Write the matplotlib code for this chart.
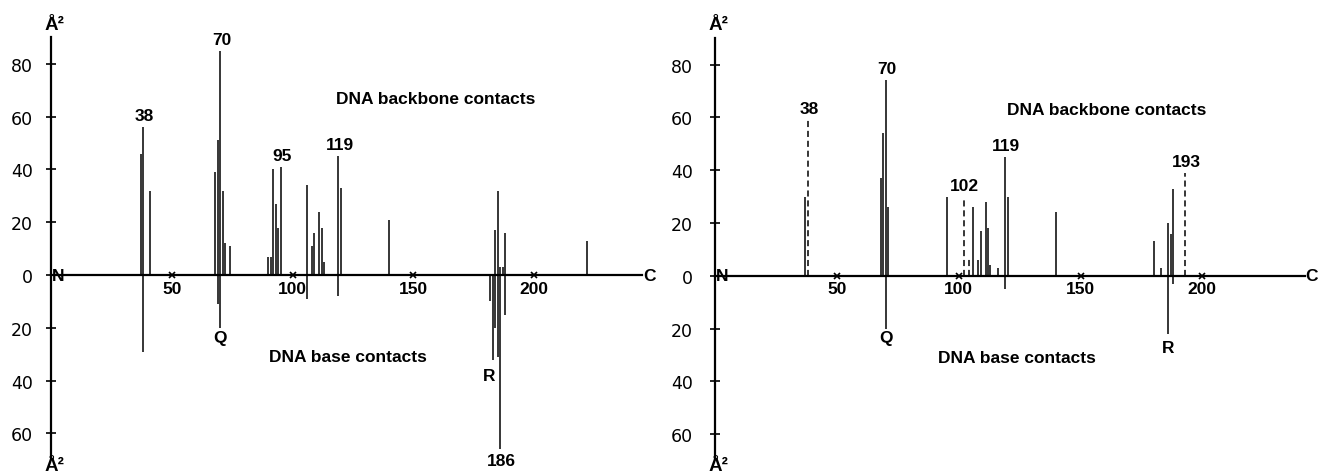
import matplotlib
matplotlib.use("Agg")
import matplotlib.pyplot as plt

plt.rcParams["font.family"] = ["Liberation Sans", "DejaVu Sans"]

# -----------------------------
# Contact areas (A^2) per residue
# -----------------------------
# left panel
left_bb_res = [37, 38, 41, 68, 69, 70, 71, 72, 74, 90, 91, 92, 93, 94, 95,
               106, 108, 109, 111, 112, 113, 119, 120, 140,
               184, 185, 186, 187, 188, 222]
left_bb_val = [46, 56, 32, 39, 51, 85, 32, 12, 11, 7, 7, 40, 27, 18, 41,
               34, 11, 16, 24, 18, 5, 45, 33, 21,
               17, 32, 3, 3, 16, 13]
left_base_res = [38, 69, 70, 106, 119, 182, 183, 184, 185, 186, 188]
left_base_val = [29, 11, 20, 9, 8, 10, 32, 20, 31, 66, 15]

# right panel
right_bb_res = [37, 68, 69, 70, 71, 95, 106, 108, 109, 111, 112, 113, 116,
                119, 120, 140, 180, 183, 186, 187, 188]
right_bb_val = [30, 37, 54, 74, 26, 30, 26, 6, 17, 28, 18, 4, 3,
                45, 30, 24, 13, 3, 20, 16, 33]
right_dash_res = [38, 102, 104, 193]
right_dash_val = [59, 30, 7, 39]
right_base_res = [70, 119, 186, 188]
right_base_val = [20, 5, 22, 3]

# labelled residues
left_top_labels = [38, 70, 95, 119]
left_bottom_labels = [186]
right_top_labels = [38, 70, 102, 119, 193]
left_letters = {"Q": (70, -23.5), "R": (181.5, -38)}
right_letters = {"Q": (70, -23.5), "R": (186, -27)}

x_ticks = [50, 100, 150, 200]
y_ticks = [-60, -40, -20, 0, 20, 40, 60, 80]

fig = plt.figure(figsize=(13.22, 4.77), dpi=100)
W, H = 1322, 477
YLIM = (-75, 97)


def setup(ax, xend, ypad):
    ax.set_xlim(0, xend)
    ax.set_ylim(*YLIM)
    ax.spines["left"].set_position(("data", 0))
    ax.spines["bottom"].set_position(("data", 0))
    ax.spines["right"].set_visible(False)
    ax.spines["top"].set_visible(False)
    ax.spines["left"].set_bounds(-69, 90)
    ax.spines["bottom"].set_bounds(0, xend)
    for s in ("left", "bottom"):
        ax.spines[s].set_linewidth(1.6)
    ax.set_yticks(y_ticks)
    ax.set_yticklabels([str(abs(v)) for v in y_ticks], family="DejaVu Sans",
                       fontsize=12.5)
    ax.tick_params(axis="y", direction="inout", length=7, width=1.2, pad=ypad)
    ax.set_xticks(x_ticks)
    ax.set_xticklabels([str(v) for v in x_ticks], fontweight="bold", fontsize=12.5)
    ax.tick_params(axis="x", length=0, pad=4)
    ax.plot(x_ticks, [0] * len(x_ticks), "x", color="black", ms=4, mew=1.2,
            clip_on=False)
    ax.patch.set_visible(False)
    ax.text(3, 0, "N", ha="center", va="center", fontweight="bold", fontsize=12.5)
    ax.text(xend + 0.3, 0, "C", ha="left", va="center", fontweight="bold",
            fontsize=12.5, clip_on=False)
    for yy in (95, -72):
        ax.text(-2.8, yy, "Å²", ha="left", va="center", fontweight="bold",
                fontsize=13.5, clip_on=False)


ax1 = fig.add_axes([51.3 / W, 3 / H, 245 * 2.413 / W, 454 / H])
ax2 = fig.add_axes([715.3 / W, 2.3 / H, 242 * 2.435 / W, 454 / H])
setup(ax1, 245, 9.5)
setup(ax2, 242, 12.5)

lw = 1.1
# left panel bars
ax1.vlines(left_bb_res, 0, left_bb_val, color="black", lw=lw)
ax1.vlines(left_base_res, 0, [-v for v in left_base_val], color="black", lw=lw)
# right panel bars
ax2.vlines(right_bb_res, 0, right_bb_val, color="black", lw=lw)
ax2.vlines(right_dash_res, 0, right_dash_val, color="black", lw=lw,
           linestyles=(0, (4, 2.5)))
ax2.vlines(right_base_res, 0, [-v for v in right_base_val], color="black", lw=lw)

lbl = dict(fontweight="bold", fontsize=12.5, ha="center")
for r in left_top_labels:
    ax1.text(r + 0.5, left_bb_val[left_bb_res.index(r)] + 1.5, str(r),
             va="bottom", **lbl)
for r in left_bottom_labels:
    ax1.text(r + 0.5, -left_base_val[left_base_res.index(r)] - 1.5, str(r),
             va="top", **lbl)
right_top = dict(zip(right_bb_res + right_dash_res, right_bb_val + right_dash_val))
for r in right_top_labels:
    ax2.text(r + 0.5, right_top[r] + 1.5, str(r), va="bottom", **lbl)

for ax, letters in ((ax1, left_letters), (ax2, right_letters)):
    for name, (xx, yy) in letters.items():
        ax.text(xx, yy, name, va="center", **lbl)

# panel captions
ax1.text(159.4, 66.7, "DNA backbone contacts", ha="center", va="center",
         fontweight="bold", fontsize=12.5)
ax1.text(123, -30.7, "DNA base contacts", ha="center", va="center",
         fontweight="bold", fontsize=12.5)
ax2.text(160.9, 63, "DNA backbone contacts", ha="center", va="center",
         fontweight="bold", fontsize=12.5)
ax2.text(123.7, -30.8, "DNA base contacts", ha="center", va="center",
         fontweight="bold", fontsize=12.5)

fig.savefig("out.png", dpi=100)
